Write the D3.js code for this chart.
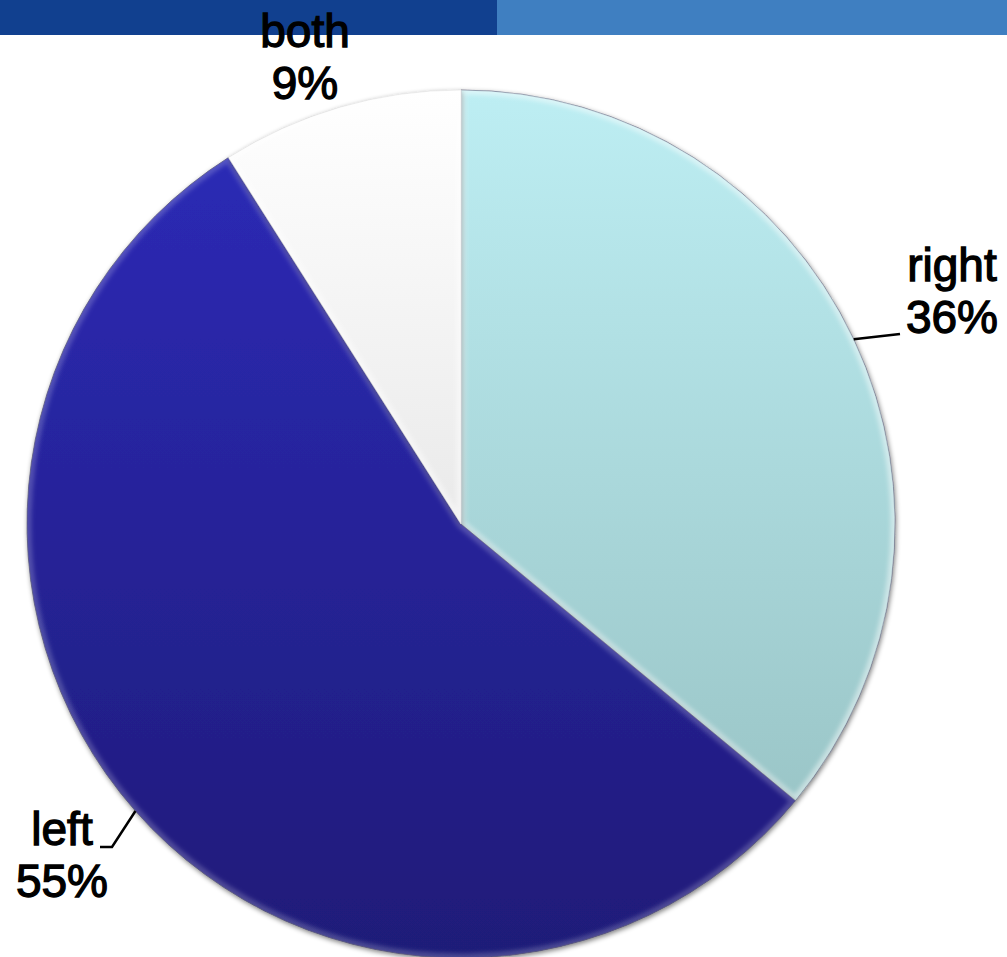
<!DOCTYPE html>
<html>
<head>
<meta charset="utf-8">
<script src="https://cdn.jsdelivr.net/npm/d3@7/dist/d3.min.js"></script>
<style>
  html, body { margin: 0; padding: 0; background: #ffffff; }
  svg { display: block; }
</style>
</head>
<body>
<svg id="chart" width="1007" height="957"></svg>
<script>
// Hand preference shares
const categories = ["right", "left", "both"];
const shares = [36, 55, 9];
const percentLabels = ["36%", "55%", "9%"];

const W = 1007, H = 957;
const cx = 461, cy = 524, R = 434;

const svg = d3.select("#chart");
const defs = svg.append("defs");

// Header band
svg.append("rect").attr("x", 0).attr("y", 0).attr("width", 497).attr("height", 35).attr("fill", "#11408f");
svg.append("rect").attr("x", 497).attr("y", 0).attr("width", W - 497).attr("height", 35).attr("fill", "#3f7fc1");

// Vertical shading per slice, spanning the whole pie (pie-local coordinates)
const gradStops = {
  right: ["#bdeef3", "#93bdbe"],
  left:  ["#2d2bba", "#1f1b78"],
  both:  ["#ffffff", "#d4d4d4"]
};
categories.forEach(c => {
  const g = defs.append("linearGradient")
    .attr("id", "grad-" + c)
    .attr("gradientUnits", "userSpaceOnUse")
    .attr("x1", 0).attr("y1", -R).attr("x2", 0).attr("y2", R);
  g.append("stop").attr("offset", "0%").attr("stop-color", gradStops[c][0]);
  g.append("stop").attr("offset", "100%").attr("stop-color", gradStops[c][1]);
});

// Soft shadow under the pie
const shadow = defs.append("filter").attr("id", "shadow")
  .attr("x", "-10%").attr("y", "-10%").attr("width", "120%").attr("height", "120%");
shadow.append("feGaussianBlur").attr("in", "SourceAlpha").attr("stdDeviation", 2.5).attr("result", "b");
shadow.append("feOffset").attr("in", "b").attr("dx", 1).attr("dy", 2).attr("result", "o");
shadow.append("feComponentTransfer").attr("in", "o").attr("result", "s")
  .append("feFuncA").attr("type", "linear").attr("slope", 0.5);
const sm = shadow.append("feMerge");
sm.append("feMergeNode").attr("in", "s");
sm.append("feMergeNode").attr("in", "SourceGraphic");

const blur = defs.append("filter").attr("id", "soft");
blur.append("feGaussianBlur").attr("stdDeviation", 2.2);

const pie = d3.pie().sort(null).value(d => d.value).startAngle(0).endAngle(2 * Math.PI);
const data = categories.map((c, i) => ({ cat: c, value: shares[i], label: percentLabels[i] }));
const arcs = pie(data);
const arc = d3.arc().innerRadius(0).outerRadius(R);

const g = svg.append("g").attr("transform", `translate(${cx},${cy})`);

arcs.forEach((a, i) => {
  defs.append("clipPath").attr("id", "clip-" + i).append("path").attr("d", arc(a));
});

const sliceG = g.selectAll("g.slice").data(arcs).join("g").attr("class", "slice")
  .attr("filter", "url(#shadow)");

sliceG.append("path")
  .attr("d", arc)
  .attr("fill", d => `url(#grad-${d.data.cat})`)
  .attr("stroke", d => d.data.cat === "both" ? "#d0d0d0" : "#3a3a5a")
  .attr("stroke-opacity", 0.6)
  .attr("stroke-width", 1);

// Beveled inner rim highlight
arcs.forEach((a, i) => {
  g.append("g").attr("clip-path", `url(#clip-${i})`)
    .append("path")
    .attr("d", arc(a))
    .attr("fill", "none")
    .attr("stroke", "#ffffff")
    .attr("stroke-opacity", a.data.cat === "left" ? 0.2 : 0.45)
    .attr("stroke-width", 9)
    .attr("filter", "url(#soft)");
});

// Labels
const fontSize = 46;
const lineGap = 52;
const labelPos = {
  right: { x: 952, y: 281, end: [900, 334], bend: null },
  left:  { x: 62,  y: 845, end: [100, 847], bend: [112, 847] },
  both:  { x: 305, y: 47,  end: null, bend: null }
};

arcs.forEach(a => {
  const p = labelPos[a.data.cat];
  if (p.end) {
    const mid = (a.startAngle + a.endAngle) / 2;
    const sx = cx + R * Math.sin(mid), sy = cy - R * Math.cos(mid);
    const pts = [[sx, sy]];
    if (p.bend) pts.push(p.bend);
    pts.push(p.end);
    svg.append("path")
      .attr("d", d3.line()(pts))
      .attr("fill", "none")
      .attr("stroke", "#000")
      .attr("stroke-width", 2.5);
  }
  const t = svg.append("text")
    .attr("text-anchor", "middle")
    .attr("font-family", "Liberation Sans, Arial, sans-serif")
    .attr("font-size", fontSize)
    .attr("fill", "#000")
    .attr("stroke", "#000")
    .attr("stroke-width", 1.3);
  t.append("tspan").attr("x", p.x).attr("y", p.y).text(a.data.cat);
  t.append("tspan").attr("x", p.x).attr("y", p.y + lineGap).text(a.data.label);
});
</script>
</body>
</html>
